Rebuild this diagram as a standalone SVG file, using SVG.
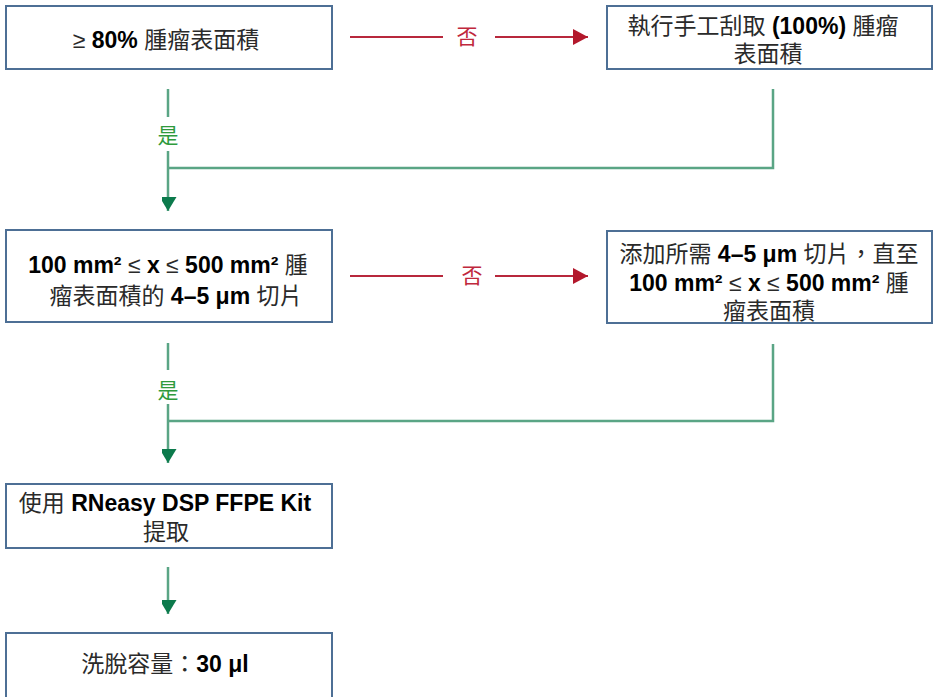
<svg xmlns="http://www.w3.org/2000/svg" width="938" height="697" viewBox="0 0 938 697">
<defs>
<marker id="redHead" markerUnits="userSpaceOnUse" markerWidth="16" markerHeight="16" refX="15" refY="8" orient="auto">
<path d="M0,0 L15,8 L0,16 Z" fill="#b3182c"/>
</marker>
<marker id="greenHead" markerUnits="userSpaceOnUse" markerWidth="18" markerHeight="15" refX="14" refY="8.5" orient="auto">
<path d="M0,0 L14,8.5 L0,17 Z" fill="#0c7a4c"/>
</marker>
</defs>
<style>
.box{fill:#fff;stroke:#4d6f95;stroke-width:2}
.t{font-family:"Liberation Sans","Noto Sans CJK TC",sans-serif;font-size:23px;fill:#2a2a2a;text-anchor:middle}
.b{font-weight:bold;fill:#000}
.red{stroke:#b8283c;stroke-width:2;fill:none}
.green{stroke:#5aa585;stroke-width:2.5;fill:none}
.no{font-family:"Noto Sans CJK TC",sans-serif;font-size:21px;fill:#c0283c;text-anchor:middle}
.yes{font-family:"Noto Sans CJK TC",sans-serif;font-size:21px;fill:#2f9a3c;text-anchor:middle}
</style>
<g id="connectors">
<line class="red" x1="350" y1="37" x2="443" y2="37"/>
<line class="red" x1="495" y1="37" x2="588" y2="37" marker-end="url(#redHead)"/>
<text class="no" x="467" y="44">否</text>
<line class="red" x1="350" y1="276" x2="443" y2="276"/>
<line class="red" x1="495" y1="276" x2="588" y2="276" marker-end="url(#redHead)"/>
<text class="no" x="472" y="283">否</text>
<line class="green" x1="168" y1="89" x2="168" y2="117"/>
<line class="green" x1="168" y1="151" x2="168" y2="211" marker-end="url(#greenHead)"/>
<polyline class="green" points="773,89 773,168 168,168"/>
<text class="yes" x="168" y="143">是</text>
<line class="green" x1="168" y1="343" x2="168" y2="370"/>
<line class="green" x1="168" y1="404" x2="168" y2="463" marker-end="url(#greenHead)"/>
<polyline class="green" points="773,344 773,421 168,421"/>
<text class="yes" x="168" y="398">是</text>
<line class="green" x1="168" y1="567" x2="168" y2="614" marker-end="url(#greenHead)"/>
</g>
<g id="n1">
<rect class="box" x="6" y="6" width="326" height="63"/>
<text class="t" x="166" y="48">≥ <tspan class="b">80%</tspan> 腫瘤表面積</text>
</g>
<g id="n2">
<rect class="box" x="607" y="6" width="325" height="63"/>
<text class="t" x="763" y="34">執行手工刮取 <tspan class="b">(100%)</tspan> 腫瘤</text>
<text class="t" x="768" y="62">表面積</text>
</g>
<g id="n3">
<rect class="box" x="6" y="230" width="326" height="92"/>
<text class="t" x="168" y="273"><tspan class="b">100 mm² </tspan>≤<tspan class="b"> x </tspan>≤<tspan class="b"> 500 mm²</tspan> 腫</text>
<text class="t" x="176" y="304">瘤表面積的 <tspan class="b">4–5 μm</tspan> 切片</text>
</g>
<g id="n4">
<rect class="box" x="607" y="231" width="325" height="92"/>
<text class="t" x="769" y="262">添加所需 <tspan class="b">4–5 μm</tspan> 切片，直至</text>
<text class="t" x="769" y="291"><tspan class="b">100 mm² </tspan>≤<tspan class="b"> x </tspan>≤<tspan class="b"> 500 mm²</tspan> 腫</text>
<text class="t" x="769" y="319">瘤表面積</text>
</g>
<g id="n5">
<rect class="box" x="6" y="484" width="326" height="64"/>
<text class="t" x="165" y="511">使用 <tspan class="b">RNeasy DSP FFPE Kit</tspan></text>
<text class="t" x="166" y="540">提取</text>
</g>
<g id="n6">
<rect class="box" x="6" y="633" width="326" height="70"/>
<text class="t" x="165" y="672">洗脫容量：<tspan class="b">30 μl</tspan></text>
</g>
</svg>
